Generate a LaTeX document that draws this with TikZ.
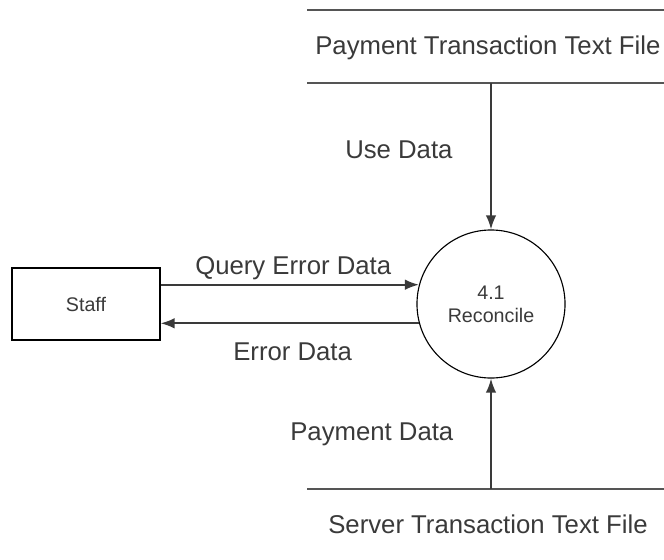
\documentclass[tikz,border=0pt]{standalone}
\usepackage{fontspec}
\setmainfont{Liberation Sans}
\usetikzlibrary{arrows.meta}
\definecolor{inkgray}{HTML}{3A3A3A}
\definecolor{storegray}{HTML}{555555}
\begin{document}
\begin{tikzpicture}[x=0.025cm, y=-0.025cm,
    lbl/.style={text=inkgray, font=\fontsize{18.3}{22}\selectfont, inner sep=0pt},
    small/.style={text=inkgray, font=\fontsize{14}{16.5}\selectfont},
    store/.style={storegray, line width=1.6pt},
    flow/.style={inkgray, line width=1.3pt, -{Latex[length=10pt, width=7.5pt]}}]
    \useasboundingbox (0,0) rectangle (664,559);
    % process and external entity
    \node[circle, draw, line width=0.8pt, minimum size=3.7cm, inner sep=0pt,
          small, align=center] (reconcile) at (491,304) {4.1\\Reconcile};
    \node[draw, line width=0.8pt, minimum width=3.7cm, minimum height=1.8cm,
          small] (staff) at (86,304) {Staff};
    % data stores
    \draw[store] (307,10) -- (664,10);
    \draw[store] (307,83) -- (664,83);
    \node[lbl, anchor=base west] (paytext) at (315,54) {Payment Transaction Text File};
    \draw[store] (307,489) -- (664,489);
    \node[lbl, anchor=base west] (srvtext) at (328,533) {Server Transaction Text File};
    \coordinate (paystore) at (491,83);
    \coordinate (srvstore) at (491,489);
    % data flows
    \draw[flow] (paystore) -- (reconcile);
    \draw[flow] (srvstore) -- (reconcile);
    \draw[flow] (staff.east |- reconcile.165) -- (reconcile.165);
    \draw[flow] (reconcile.195) -- (staff.east |- reconcile.195);
    \node[lbl, anchor=base west] (usedata) at (345,158) {Use Data};
    \node[lbl, anchor=base west] (querydata) at (195,274) {Query Error Data};
    \node[lbl, anchor=base west] (errdata) at (233,360) {Error Data};
    \node[lbl, anchor=base west] (paydata) at (290,440) {Payment Data};
\end{tikzpicture}
\end{document}
